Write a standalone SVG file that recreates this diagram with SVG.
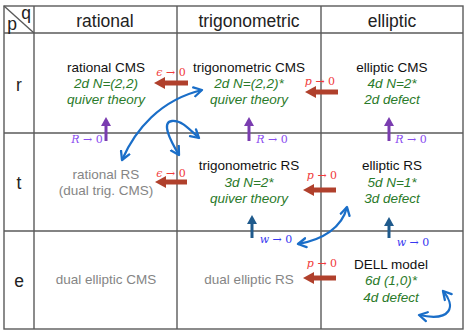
<svg xmlns="http://www.w3.org/2000/svg" width="470" height="336" viewBox="0 0 470 336">
<defs>
<style>
.grid{stroke:#5a5a5a;stroke-width:1.4;fill:none}
.hd{font-family:"Liberation Sans",Arial,sans-serif;font-size:17.5px;fill:#222;text-anchor:middle}
.t1{font-family:"Liberation Sans",Arial,sans-serif;font-size:13.5px;fill:#111;text-anchor:middle}
.gr{font-family:"Liberation Sans",Arial,sans-serif;font-size:13.5px;fill:#858585;text-anchor:middle}
.gn{font-family:"Liberation Sans",Arial,sans-serif;font-size:13.5px;font-style:italic;fill:#2a7a2a;text-anchor:middle}
.m{font-family:"DejaVu Serif","Liberation Serif",serif;font-size:11px;text-anchor:middle}
.mr{fill:#f03a3a}
.mp{fill:#8a4cf0}
.mb{fill:#3838f0}
.red{stroke:#b0402c;stroke-width:5;fill:none;marker-end:url(#hr)}
.pur{stroke:#7a3cb0;stroke-width:3;fill:none;marker-end:url(#hp)}
.dbl{stroke:#1f5a8c;stroke-width:3;fill:none;marker-end:url(#hd)}
.cur{stroke:#1a6ec8;stroke-width:2.3;fill:none;marker-start:url(#hc);marker-end:url(#hc)}
</style>
<marker id="hr" markerUnits="userSpaceOnUse" markerWidth="11" markerHeight="12" viewBox="0 0 11 12" refX="0" refY="6" orient="auto"><path d="M0,0 L11,6 L0,12 z" fill="#b0402c"/></marker>
<marker id="hp" markerUnits="userSpaceOnUse" markerWidth="9" markerHeight="10" viewBox="0 0 9 10" refX="0" refY="5" orient="auto"><path d="M0,0 L9,5 L0,10 z" fill="#7a3cb0"/></marker>
<marker id="hd" markerUnits="userSpaceOnUse" markerWidth="9" markerHeight="10" viewBox="0 0 9 10" refX="0" refY="5" orient="auto"><path d="M0,0 L9,5 L0,10 z" fill="#1f5a8c"/></marker>
<marker id="hc" markerUnits="userSpaceOnUse" markerWidth="12" markerHeight="12" viewBox="0 0 12 12" refX="9" refY="6" orient="auto-start-reverse"><path d="M1,1.5 L9,6 L1,10.5" fill="none" stroke="#1a6ec8" stroke-width="2.3" stroke-linecap="round" stroke-linejoin="round"/></marker>
</defs>
<rect width="470" height="336" fill="#fff"/>
<g id="grid" class="grid">
<rect x="4" y="6" width="459" height="323"/>
<line x1="4" y1="33" x2="463" y2="33"/>
<line x1="4" y1="133" x2="463" y2="133"/>
<line x1="4" y1="231" x2="463" y2="231"/>
<line x1="34" y1="6" x2="34" y2="329"/>
<line x1="177" y1="6" x2="177" y2="329"/>
<line x1="321" y1="6" x2="321" y2="329"/>
<line x1="4" y1="6" x2="34" y2="33"/>
</g>
<g id="headers">
<text x="26" y="19" class="hd" font-size="16">q</text>
<text x="12" y="30" class="hd" font-size="16">p</text>
<text x="105" y="27" class="hd">rational</text>
<text x="249" y="27" class="hd">trigonometric</text>
<text x="392" y="27" class="hd">elliptic</text>
<text x="19" y="91" class="hd">r</text>
<text x="19" y="189" class="hd">t</text>
<text x="19" y="287" class="hd">e</text>
</g>
<g id="rational-CMS">
<text x="106" y="72" class="t1">rational CMS</text>
<text x="106" y="88" class="gn">2d N=(2,2)</text>
<text x="106" y="104" class="gn">quiver theory</text>
</g>
<g id="trigonometric-CMS">
<text x="249" y="72" class="t1">trigonometric CMS</text>
<text x="249" y="88" class="gn">2d N=(2,2)*</text>
<text x="249" y="104" class="gn">quiver theory</text>
</g>
<g id="elliptic-CMS">
<text x="392" y="72" class="t1">elliptic CMS</text>
<text x="392" y="88" class="gn">4d N=2*</text>
<text x="392" y="104" class="gn">2d defect</text>
</g>
<g id="rational-RS">
<text x="106" y="179" class="gr">rational RS</text>
<text x="106" y="195" class="gr">(dual trig. CMS)</text>
</g>
<g id="trigonometric-RS">
<text x="249" y="170" class="t1">trigonometric RS</text>
<text x="249" y="187" class="gn">3d N=2*</text>
<text x="249" y="203" class="gn">quiver theory</text>
</g>
<g id="elliptic-RS">
<text x="392" y="170" class="t1">elliptic RS</text>
<text x="392" y="187" class="gn">5d N=1*</text>
<text x="392" y="203" class="gn">3d defect</text>
</g>
<g id="dual-elliptic-CMS">
<text x="106" y="284" class="gr">dual elliptic CMS</text>
</g>
<g id="dual-elliptic-RS">
<text x="249" y="284" class="gr">dual elliptic RS</text>
</g>
<g id="DELL-model">
<text x="391" y="269" class="t1">DELL model</text>
<text x="391" y="285" class="gn">6d (1,0)*</text>
<text x="391" y="302" class="gn">4d defect</text>
</g>
<g id="connectors">
<line x1="188" y1="83" x2="165" y2="83" class="red"/>
<line x1="338" y1="92" x2="316" y2="92" class="red"/>
<line x1="187" y1="182" x2="166" y2="182" class="red"/>
<line x1="336" y1="190" x2="314" y2="190" class="red"/>
<line x1="336" y1="278" x2="314" y2="278" class="red"/>
<line x1="106" y1="141" x2="106" y2="126" class="pur"/>
<line x1="249" y1="141" x2="249" y2="126" class="pur"/>
<line x1="389" y1="141" x2="389" y2="126" class="pur"/>
<line x1="252" y1="238" x2="252" y2="224" class="dbl"/>
<line x1="389" y1="238" x2="389" y2="226" class="dbl"/>
<path d="M122,160 C135,130 160,100 202,90" class="cur"/>
<path d="M179,155 C170,140 161,122 172,121 C182,120 190,130 199,138" class="cur"/>
<path d="M298,244 C322,240 342,228 347,207" class="cur"/>
<path d="M443,291 C456,306 452,322 419,315" class="cur"/>
<text x="171" y="76" class="m mr"><tspan font-style="italic">ϵ</tspan> → 0</text>
<text x="320" y="85" class="m mr"><tspan font-style="italic">p</tspan> → 0</text>
<text x="171" y="177" class="m mr"><tspan font-style="italic">ϵ</tspan> → 0</text>
<text x="322" y="179" class="m mr"><tspan font-style="italic">p</tspan> → 0</text>
<text x="322" y="267" class="m mr"><tspan font-style="italic">p</tspan> → 0</text>
<text x="87" y="143" class="m mp"><tspan font-style="italic">R</tspan> → 0</text>
<text x="272" y="143" class="m mp"><tspan font-style="italic">R</tspan> → 0</text>
<text x="411" y="143" class="m mp"><tspan font-style="italic">R</tspan> → 0</text>
<text x="276" y="243" class="m mb"><tspan font-style="italic">w</tspan> → 0</text>
<text x="413" y="246" class="m mb"><tspan font-style="italic">w</tspan> → 0</text>
</g>
</svg>
